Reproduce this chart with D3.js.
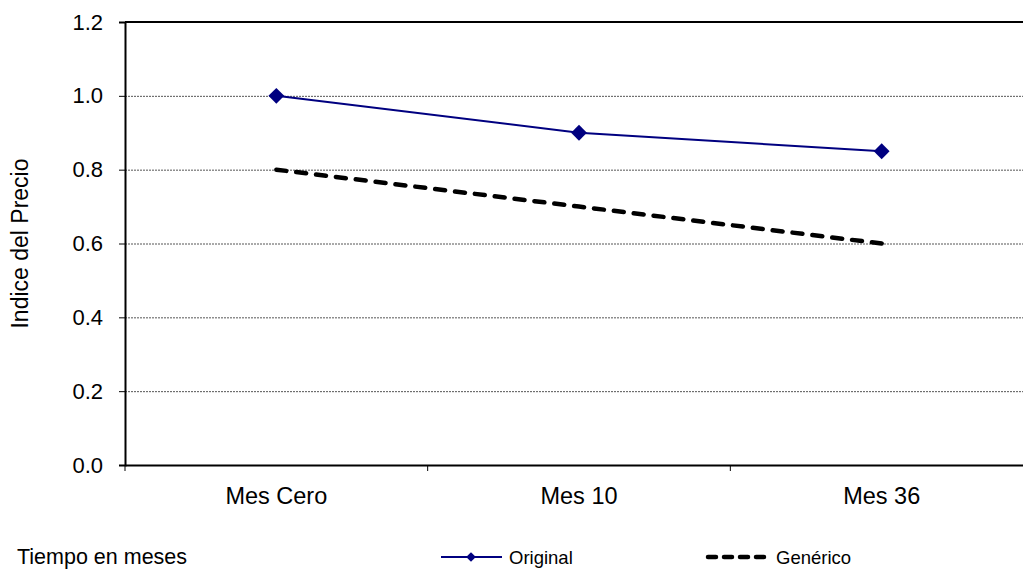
<!DOCTYPE html>
<html><head><meta charset="utf-8">
<script src="https://cdn.jsdelivr.net/npm/d3@7"></script>
<style>body{margin:0;background:#fff}svg{display:block;font-family:"Liberation Sans",Arial,sans-serif}</style>
</head><body><div id="chart"></div>
<script>
const categories = ["Mes Cero", "Mes 10", "Mes 36"];
const original = [1.0, 0.9, 0.85];
const generico = [0.8, 0.7, 0.6];
const yTicks = [0, 0.2, 0.4, 0.6, 0.8, 1.0, 1.2];

const W = 1023, H = 569;
const FONT = "Liberation Sans, Arial, sans-serif";
const svg = d3.select("#chart").append("svg").attr("width", W).attr("height", H);
const mLeft = 125, mTop = 22, mBottom = 465, mRight = 1033;

const x = d3.scaleBand().domain(categories).range([mLeft, mRight]);
const y = d3.scaleLinear().domain([0, 1.2]).range([mBottom, mTop]);

// gridlines
svg.append("g").selectAll("line").data(yTicks.filter(d => d > 0 && d < 1.2)).join("line")
  .attr("x1", mLeft).attr("x2", mRight).attr("y1", d => y(d) + 0.5).attr("y2", d => y(d) + 0.5)
  .attr("stroke", "#555").attr("stroke-width", 1).attr("stroke-dasharray", "2,1");

// top border
svg.append("line").attr("x1", mLeft).attr("x2", mRight).attr("y1", mTop).attr("y2", mTop)
  .attr("stroke", "#000").attr("stroke-width", 2);

// y axis
const yAxis = d3.axisLeft(y).tickValues(yTicks).tickFormat(d3.format(".1f")).tickSize(6).tickPadding(16);
const gy = svg.append("g").attr("transform", `translate(${mLeft},0)`).call(yAxis);
gy.select(".domain").attr("stroke-width", 2);
gy.selectAll("text").attr("font-size", 22).attr("fill", "#000").attr("font-family", FONT);

// x axis
const xAxis = d3.axisBottom(x).tickSize(0).tickPadding(22);
const gx = svg.append("g").attr("transform", `translate(0,${mBottom})`).call(xAxis);
gx.select(".domain").attr("stroke-width", 2);
gx.selectAll("text").attr("font-size", 23.5).attr("fill", "#000").attr("dy", "0.71em").attr("font-family", FONT);
// category separators
svg.append("g").selectAll("line").data(categories).join("line")
  .attr("x1", d => x(d)).attr("x2", d => x(d)).attr("y1", mBottom).attr("y2", mBottom + 6)
  .attr("stroke", "#000").attr("stroke-width", 1);

const cx = d => x(d) + x.bandwidth() / 2;

// generic line
const line = d3.line().x((d, i) => cx(categories[i])).y(d => y(d));
svg.append("path").datum(generico).attr("d", line).attr("fill", "none")
  .attr("stroke", "#000").attr("stroke-width", 4.5).attr("stroke-dasharray", "10,10").attr("stroke-linecap", "round");

// original line
svg.append("path").datum(original).attr("d", line).attr("fill", "none")
  .attr("stroke", "#000080").attr("stroke-width", 2);
const diamond = d3.symbol().type(d3.symbolDiamond2).size(160);
svg.append("g").selectAll("path").data(original).join("path")
  .attr("d", diamond).attr("transform", (d, i) => `translate(${cx(categories[i])},${y(d)})`)
  .attr("fill", "#000080");

// y label
svg.append("text").attr("transform", `translate(28,${(mTop + mBottom) / 2}) rotate(-90)`)
  .attr("text-anchor", "middle").attr("font-size", 23).text("Indice del Precio");

// bottom legend
const ly = 557;
svg.append("text").attr("x", 17).attr("y", 564).attr("font-size", 21.5).text("Tiempo en meses");
svg.append("line").attr("x1", 441).attr("x2", 502).attr("y1", ly).attr("y2", ly).attr("stroke", "#000080").attr("stroke-width", 2);
svg.append("path").attr("d", d3.symbol().type(d3.symbolDiamond2).size(60)).attr("transform", `translate(471,${ly})`).attr("fill", "#000080");
svg.append("text").attr("x", 509).attr("y", 564).attr("font-size", 18.5).text("Original");
svg.append("line").attr("x1", 708).attr("x2", 769).attr("y1", ly).attr("y2", ly).attr("stroke", "#000").attr("stroke-width", 4.5)
  .attr("stroke-dasharray", "8,8").attr("stroke-linecap", "round");
svg.append("text").attr("x", 776).attr("y", 564).attr("font-size", 18.5).text("Genérico");
</script></body></html>
